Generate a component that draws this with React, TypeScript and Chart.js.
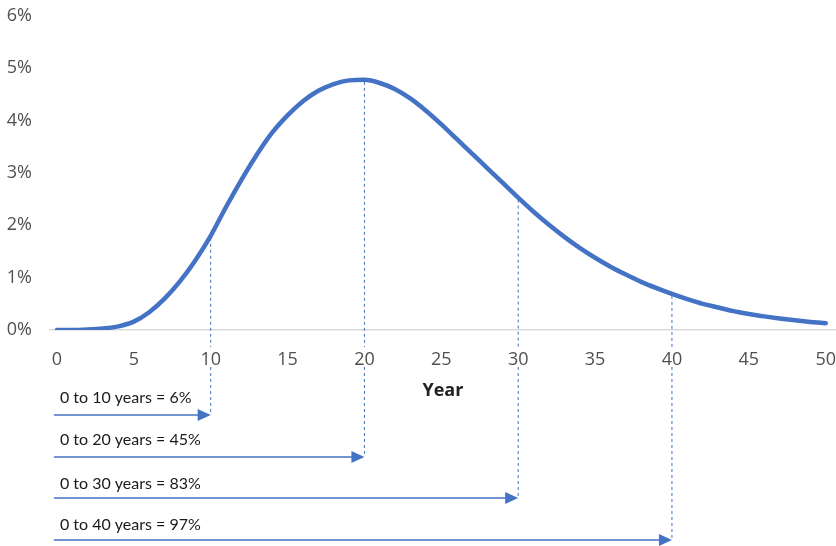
import React, { useEffect, useRef } from "react";
import { Chart, registerables } from "chart.js";

Chart.register(...registerables);

// Year axis (0..50)
const YEARS: number[] = [
  0, 1, 2, 3, 4, 5, 6, 7, 8, 9, 10, 11, 12, 13, 14, 15, 16, 17, 18, 19, 20,
  21, 22, 23, 24, 25, 26, 27, 28, 29, 30, 31, 32, 33, 34, 35, 36, 37, 38, 39,
  40, 41, 42, 43, 44, 45, 46, 47, 48, 49, 50,
];
// Probability (%)
const PROBABILITY: number[] = [
  0, 0, 0.01, 0.03, 0.07, 0.16, 0.34, 0.6, 0.93, 1.33, 1.8, 2.35, 2.87, 3.35,
  3.77, 4.1, 4.37, 4.57, 4.7, 4.77, 4.78, 4.72, 4.6, 4.42, 4.19, 3.93, 3.65,
  3.37, 3.09, 2.81, 2.53, 2.26, 2.01, 1.78, 1.57, 1.38, 1.21, 1.06, 0.92, 0.8,
  0.69, 0.59, 0.5, 0.43, 0.36, 0.305, 0.26, 0.22, 0.185, 0.155, 0.13,
];
const X_TICKS: number[] = [0, 5, 10, 15, 20, 25, 30, 35, 40, 45, 50];
const Y_TICKS: number[] = [0, 1, 2, 3, 4, 5, 6];

// Cumulative annotations
const MILESTONE_YEARS: number[] = [10, 20, 30, 40];
const CUMULATIVE_PCT: number[] = [6, 45, 83, 97];

const BLUE = "#4472c4";

export default function App() {
  const ref = useRef<HTMLCanvasElement | null>(null);

  useEffect(() => {
    if (!ref.current) return;
    const arrowRowsY = [415, 457, 498, 540];
    const labelRowsY = [398, 440, 484, 525];

    const annotations = {
      id: "annotations",
      afterDraw(chart: any) {
        const ctx = chart.ctx as CanvasRenderingContext2D;
        const xs = chart.scales.x;
        const ys = chart.scales.y;
        const axisY = ys.getPixelForValue(0);
        const x0 = xs.getPixelForValue(0) - 3;
        ctx.save();
        MILESTONE_YEARS.forEach((yr, i) => {
          const px = xs.getPixelForValue(yr);
          const idx = YEARS.indexOf(yr);
          const top = ys.getPixelForValue(PROBABILITY[idx]) + 2;
          const rowY = arrowRowsY[i];
          // dashed drop line (interrupted by the tick label)
          ctx.strokeStyle = BLUE;
          ctx.lineWidth = 1;
          ctx.setLineDash([3, 3]);
          ctx.beginPath();
          ctx.moveTo(px, top);
          ctx.lineTo(px, axisY + 17);
          ctx.moveTo(px, axisY + 37);
          ctx.lineTo(px, rowY);
          ctx.stroke();
          ctx.setLineDash([]);
          // arrow
          ctx.lineWidth = 1.5;
          ctx.beginPath();
          ctx.moveTo(x0, rowY);
          ctx.lineTo(px - 12, rowY);
          ctx.stroke();
          ctx.fillStyle = BLUE;
          ctx.beginPath();
          ctx.moveTo(px, rowY);
          ctx.lineTo(px - 13, rowY - 6);
          ctx.lineTo(px - 13, rowY + 6);
          ctx.closePath();
          ctx.fill();
          // label
          ctx.fillStyle = "#1a1a1a";
          ctx.font = "16px Lato";
          ctx.textAlign = "left";
          ctx.textBaseline = "middle";
          ctx.fillText(
            `0 to ${yr} years = ${CUMULATIVE_PCT[i]}%`,
            x0 + 6,
            labelRowsY[i]
          );
        });
        ctx.restore();
      },
    };

    const chart = new Chart(ref.current, {
      type: "line",
      data: {
        datasets: [
          {
            data: YEARS.map((x, i) => ({ x, y: PROBABILITY[i] })),
            borderColor: BLUE,
            borderWidth: 4.5,
            borderCapStyle: "round",
            pointRadius: 0,
            cubicInterpolationMode: "monotone",
            fill: false,
          },
        ],
      },
      options: {
        animation: false,
        responsive: false,
        maintainAspectRatio: false,
        layout: { padding: { left: 7, right: 0, top: 16, bottom: 0 } },
        plugins: {
          legend: { display: false },
          tooltip: { enabled: false },
        },
        scales: {
          x: {
            type: "linear",
            min: -0.45,
            max: 50.65,
            afterBuildTicks: (s: any) => {
              s.ticks = X_TICKS.map((v) => ({ value: v }));
            },
            afterFit: (s: any) => {
              s.height = 216;
            },
            grid: { display: false, drawTicks: true, tickLength: 19 },
            border: { display: true, color: "#d9d9d9", width: 1.5 },
            ticks: {
              padding: 0,
              color: "#505050",
              font: { family: "'Open Sans'", size: 18 },
              maxRotation: 0,
              autoSkip: false,
            },
            title: {
              display: true,
              text: "Year",
              color: "#222222",
              font: { family: "'Open Sans'", size: 18, weight: "bold" },
              padding: { top: 0, bottom: 144 },
            },
          },
          y: {
            min: 0,
            max: 6,
            afterBuildTicks: (s: any) => {
              s.ticks = Y_TICKS.map((v) => ({ value: v }));
            },
            afterFit: (s: any) => {
              s.width = 43;
            },
            grid: { display: false, drawTicks: true, tickLength: 18 },
            border: { display: false },
            ticks: {
              padding: 0,
              color: "#505050",
              font: { family: "'Open Sans'", size: 18 },
              callback: (v: any) => `${v}%`,
            },
          },
        },
      },
      plugins: [annotations],
    });
    return () => chart.destroy();
  }, []);

  return (
    <div style={{ position: "absolute", left: 0, top: 0, width: 836, height: 546, background: "#fff" }}>
      <canvas ref={ref} width={836} height={546} style={{ width: 836, height: 546 }} />
    </div>
  );
}
